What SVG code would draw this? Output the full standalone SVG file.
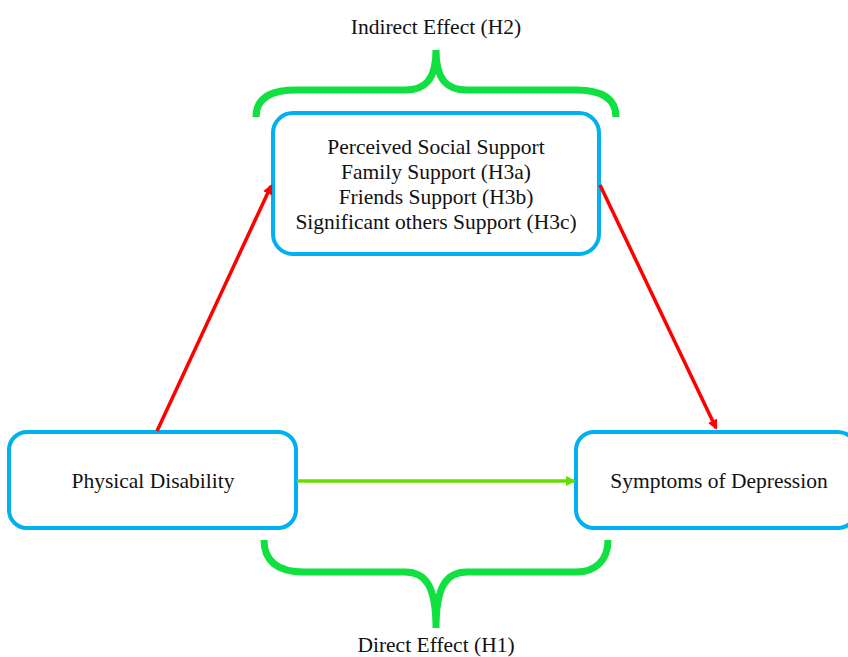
<svg xmlns="http://www.w3.org/2000/svg" width="848" height="657" viewBox="0 0 848 657">
<style>
.box{fill:#fff;stroke:#00b0f0;stroke-width:4}
.t{font-family:"Liberation Serif",serif;font-size:21.5px;fill:#111;text-anchor:middle}
.brace{fill:none;stroke:#10e040;stroke-width:7;stroke-linecap:butt}
</style>
<defs>
<marker id="ar" markerWidth="10" markerHeight="10" refX="8" refY="5" orient="auto" markerUnits="userSpaceOnUse"><path d="M0,0 L10,5 L0,10 z" fill="#ff0000"/></marker>
<marker id="ag" markerWidth="10" markerHeight="10" refX="8" refY="5" orient="auto" markerUnits="userSpaceOnUse"><path d="M0,0 L10,5 L0,10 z" fill="#66dd00"/></marker>
</defs>
<rect width="848" height="657" fill="#fff"/>
<text class="t" x="436" y="34">Indirect Effect (H2)</text>
<text class="t" x="436" y="652">Direct Effect (H1)</text>
<g id="braces">
<path class="brace" d="M256,117 C256,100 268,90 296,90 L405,90 C425,90 436,80 436,50 C436,80 447,90 467,90 L576,90 C604,90 616,100 616,117"/>
<path class="brace" d="M264,540 C264,560 276,572 304,572 L405,572 C425,572 436,585 436,628 C436,585 447,572 467,572 L576,572 C596,572 608,560 608,540"/>
</g>
<g id="top"><rect class="box" x="273" y="113" width="326" height="141" rx="20"/>
<text class="t" x="436" y="154">Perceived Social Support</text>
<text class="t" x="436" y="179">Family Support (H3a)</text>
<text class="t" x="436" y="204">Friends Support (H3b)</text>
<text class="t" x="436" y="229">Significant others Support (H3c)</text></g>
<g id="left"><rect class="box" x="9" y="432" width="287" height="96" rx="18"/>
<text class="t" x="153" y="488">Physical Disability</text></g>
<g id="right"><rect class="box" x="576" y="432" width="280" height="96" rx="18"/>
<text class="t" x="719" y="488">Symptoms of Depression</text></g>
<g id="connectors">
<line x1="157" y1="431" x2="271" y2="186" stroke="#ff0000" stroke-width="3.5" marker-end="url(#ar)"/>
<line x1="600" y1="185" x2="716" y2="428" stroke="#ff0000" stroke-width="3.5" marker-end="url(#ar)"/>
<line x1="297" y1="481" x2="574" y2="481" stroke="#66dd00" stroke-width="3.5" marker-end="url(#ag)"/>
</g>
</svg>
